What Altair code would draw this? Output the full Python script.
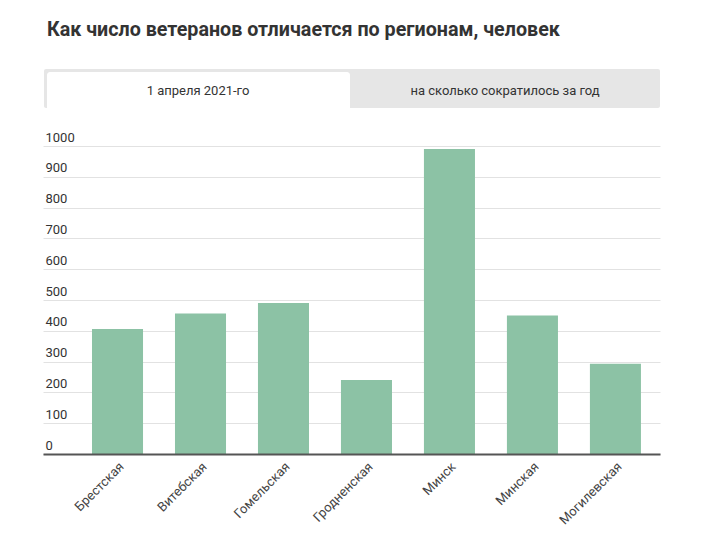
import altair as alt
import pandas as pd

regions = ["Брестская", "Витебская", "Гомельская", "Гродненская", "Минск", "Минская", "Могилевская"]
values = [406, 456, 490, 240, 990, 450, 293]

title_text = "Как число ветеранов отличается по регионам, человек"
tab_labels = ["1 апреля 2021-го", "на сколько сократилось за год"]

df = pd.DataFrame({"region": regions, "value": values})
one = pd.DataFrame({"k": [0]})

FONT = "Roboto"

bars = alt.Chart(df).mark_bar(color="#8cc2a5").encode(
    x=alt.X(
        "region:N",
        sort=regions,
        title=None,
        scale=alt.Scale(paddingInner=0.385, paddingOuter=0.41, align=0.72),
        axis=alt.Axis(
            labelAngle=-45,
            labelFontSize=13,
            labelColor="#444444",
            labelFont=FONT,
            labelPadding=6,
            ticks=False,
            domainColor="#555555",
            domainWidth=2,
            zindex=1,
        ),
    ),
    y=alt.Y(
        "value:Q",
        title=None,
        scale=alt.Scale(domain=[0, 1000], nice=False),
        axis=alt.Axis(
            values=[0, 100, 200, 300, 400, 500, 600, 700, 800, 900, 1000],
            format="d",
            ticks=False,
            tickSize=0,
            domain=False,
            labelAlign="left",
            labelBaseline="alphabetic",
            labelPadding=-2,
            labelOffset=-5,
            labelFlush=False,
            labelOverlap=False,
            labelFontSize=13,
            labelColor="#333333",
            labelFont=FONT,
            gridColor="#e2e2e2",
            gridWidth=1,
        ),
    ),
)

tab_bg = alt.Chart(one).mark_rect(color="#e6e6e6", cornerRadius=2).encode(
    x=alt.value(1), x2=alt.value(617), y=alt.value(-77), y2=alt.value(-38)
)
tab_active = alt.Chart(one).mark_rect(color="#ffffff", cornerRadiusTopLeft=3, cornerRadiusTopRight=3).encode(
    x=alt.value(4), x2=alt.value(307), y=alt.value(-74), y2=alt.value(-38)
)
tab_text1 = alt.Chart(one).mark_text(
    font=FONT, fontSize=13, color="#333333", align="center", baseline="middle"
).encode(x=alt.value(155), y=alt.value(-55), text=alt.value(tab_labels[0]))
tab_text2 = alt.Chart(one).mark_text(
    font=FONT, fontSize=13, color="#333333", align="center", baseline="middle"
).encode(x=alt.value(462), y=alt.value(-55), text=alt.value(tab_labels[1]))
title = alt.Chart(one).mark_text(
    font=FONT, fontSize=19.7, fontWeight="bold", color="#333333", align="left", baseline="middle"
).encode(x=alt.value(4), y=alt.value(-116), text=alt.value(title_text))

chart = alt.layer(bars, tab_bg, tab_active, tab_text1, tab_text2, title).properties(
    width=617,
    height=308,
    background="white",
    autosize=alt.AutoSizeParams(type="none"),
    padding={"left": 43, "top": 146, "right": 61, "bottom": 85},
).configure_view(stroke=None)

chart.save("out.html", embed_options={"renderer": "svg", "actions": False})
